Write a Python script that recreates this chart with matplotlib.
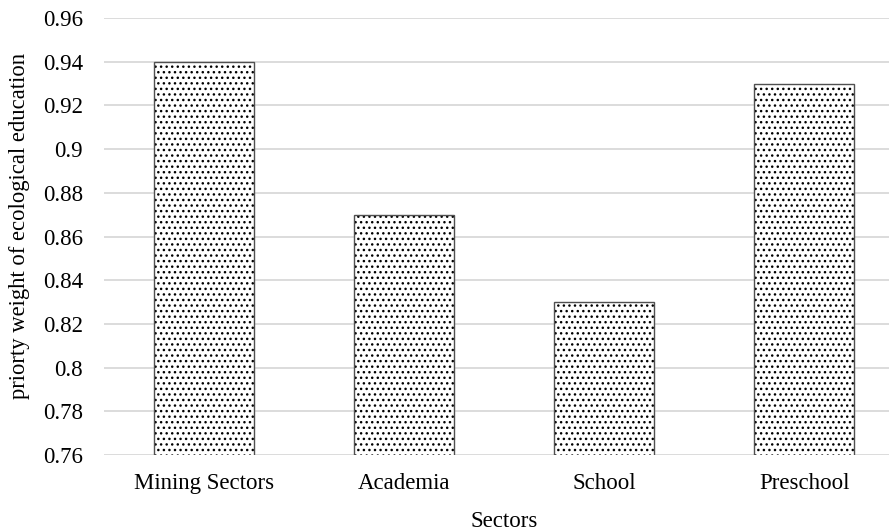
import matplotlib.pyplot as plt
import numpy as np

# values
sectors = ["Mining Sectors", "Academia", "School", "Preschool"]
weights = [0.94, 0.87, 0.83, 0.93]
yticks = np.arange(0.76, 0.961, 0.02)

plt.rcParams["font.family"] = ["Liberation Serif", "DejaVu Serif"]
plt.rcParams["hatch.linewidth"] = 1.0

fig = plt.figure(figsize=(8.89, 5.31), dpi=100)
ax = fig.add_axes([0.117, 0.1431, 0.9, 0.823])

x = np.arange(len(sectors))
# dotted fill in black, then the grey outline on top
ax.bar(x, weights, width=0.5, color="white", edgecolor="black",
       linewidth=0, hatch="...", zorder=3)
ax.bar(x, weights, width=0.5, fill=False, edgecolor="#505050",
       linewidth=1.0, zorder=4)

ax.set_xlim(-0.5, 3.5)
ax.set_ylim(0.76, 0.96)
ax.set_yticks(yticks)
ax.set_yticklabels(["%g" % round(t, 2) if round(t, 2) in (0.8, 0.9) else "%.2f" % t for t in yticks])
ax.set_xticks(x)
ax.set_xticklabels(sectors)
ax.tick_params(axis="both", length=0, labelsize=16.5)
ax.tick_params(axis="x", pad=13)
ax.tick_params(axis="y", pad=15)

ax.grid(axis="y", color="#d9d9d9", linewidth=1.3, zorder=0)
for s in ax.spines.values():
    s.set_visible(False)

ax.set_xlabel("Sectors", fontsize=16.5, labelpad=12)
ax.set_ylabel("priorty weight of ecological education", fontsize=16.3)
ax.yaxis.set_label_coords(-0.0925, 0.525)

fig.savefig("out.png", dpi=100)
